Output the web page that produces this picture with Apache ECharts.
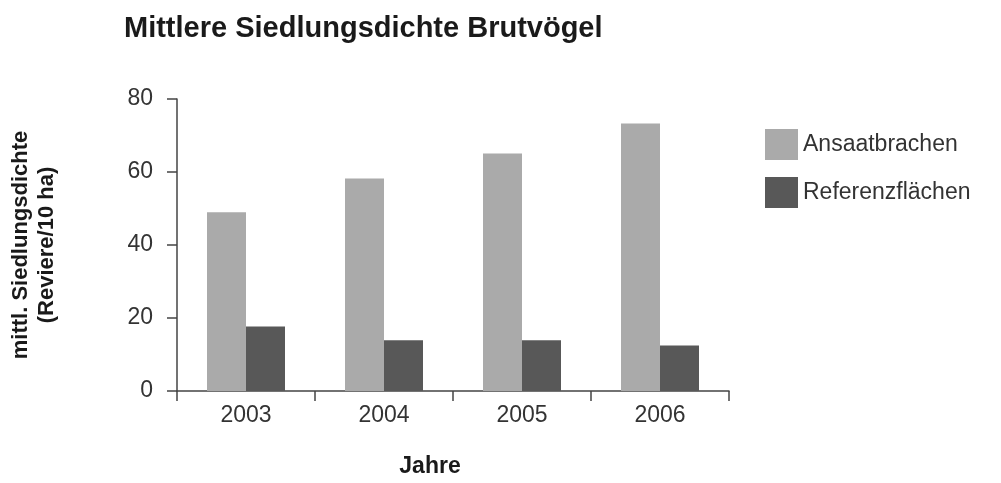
<!DOCTYPE html>
<html>
<head>
<meta charset="utf-8">
<script src="https://cdn.jsdelivr.net/npm/echarts@6/dist/echarts.min.js"></script>
<style>
html,body{margin:0;padding:0;background:#fff;}
#chart{width:1001px;height:483px;}
</style>
</head>
<body>
<div id="chart"></div>
<script>
const titleText = 'Mittlere Siedlungsdichte Brutvögel';
const categories = ['2003', '2004', '2005', '2006'];
const seriesNames = ['Ansaatbrachen', 'Referenzflächen'];
const ansaatbrachen = [49, 58.2, 65.1, 73.3];
const referenzflaechen = [17.7, 13.9, 13.9, 12.5];
const yAxisTitle = 'mittl. Siedlungsdichte\n(Reviere/10 ha)';
const xAxisTitle = 'Jahre';

const FONT = '"Liberation Sans", Arial, Helvetica, sans-serif';
const chart = echarts.init(document.getElementById('chart'), null, {renderer: 'canvas'});
chart.setOption({
  animation: false,
  backgroundColor: '#ffffff',
  title: {
    text: titleText,
    left: 119,
    top: 9,
    textStyle: {fontFamily: FONT, fontSize: 29, fontWeight: 'bold', color: '#1a1a1a'}
  },
  legend: {
    orient: 'vertical',
    left: 760,
    top: 124,
    itemWidth: 33,
    itemHeight: 31,
    itemGap: 17,
    icon: 'rect',
    textStyle: {fontFamily: FONT, fontSize: 23, color: '#333'},
    data: seriesNames
  },
  grid: {left: 177, right: 272, top: 99, bottom: 85, containLabel: false},
  xAxis: {
    type: 'category',
    data: categories,
    name: xAxisTitle,
    nameLocation: 'middle',
    nameGap: 64,
    nameTextStyle: {fontFamily: FONT, fontSize: 23, fontWeight: 'bold', color: '#1a1a1a', padding: [0, 46, 0, 0]},
    axisLine: {lineStyle: {color: '#444', width: 1.5}},
    axisTick: {show: true, length: 10, lineStyle: {color: '#444', width: 1.5}},
    axisLabel: {fontFamily: FONT, fontSize: 23, color: '#333', margin: 13}
  },
  yAxis: {
    type: 'value',
    min: 0,
    max: 80,
    interval: 20,
    name: yAxisTitle,
    nameLocation: 'middle',
    nameRotate: 90,
    nameGap: 117,
    nameTextStyle: {fontFamily: FONT, fontSize: 22, fontWeight: 'bold', color: '#1a1a1a', lineHeight: 26},
    axisLine: {show: true, lineStyle: {color: '#444', width: 1.5}},
    axisTick: {show: true, length: 10, lineStyle: {color: '#444', width: 1.5}},
    axisLabel: {fontFamily: FONT, fontSize: 23, color: '#333', margin: 24},
    splitLine: {show: false}
  },
  series: [
    {name: seriesNames[0], type: 'bar', data: ansaatbrachen, barWidth: 39, barGap: '0%', itemStyle: {color: '#aaaaaa'}},
    {name: seriesNames[1], type: 'bar', data: referenzflaechen, barWidth: 39, barGap: '0%', itemStyle: {color: '#585858'}}
  ]
});
</script>
</body>
</html>
